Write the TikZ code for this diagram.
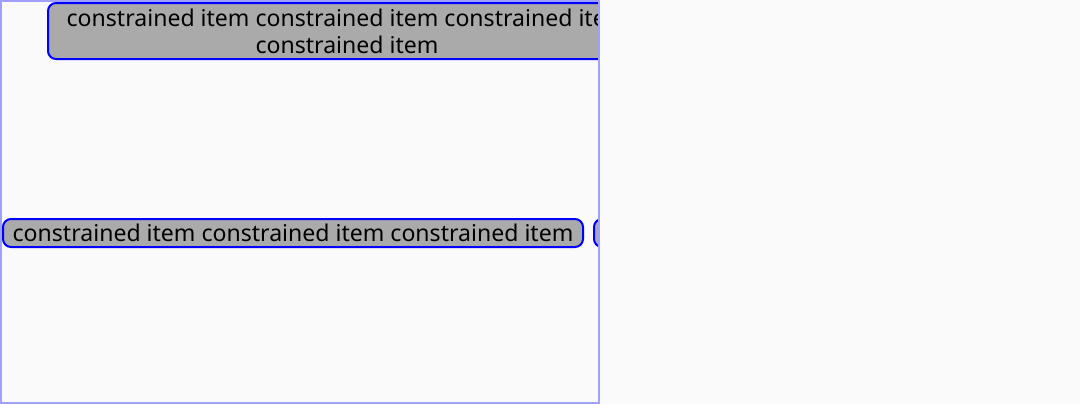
\documentclass[tikz,border=0pt]{standalone}
\usepackage{fontspec}
\setmainfont{Noto Sans}
\definecolor{bgc}{HTML}{FAFAFA}
\definecolor{framec}{HTML}{A0A0FF}
\definecolor{boxfill}{HTML}{AAAAAA}
\definecolor{boxline}{HTML}{0000FF}
\begin{document}
\begin{tikzpicture}[x=0.75pt,y=-0.75pt,
  itembox/.style={draw=boxline, fill=boxfill, line width=1.5pt, rounded corners=6pt,
    inner sep=0pt, align=center, font=\fontsize{17.3pt}{20.25pt}\selectfont, text=black}]
\fill[bgc] (0,0) rectangle (1080,404);
\useasboundingbox (0,0) rectangle (1080,404);
\begin{scope}
\clip (0,0) rectangle (599,404);
\node[itembox, minimum width=598*0.75pt, minimum height=56*0.75pt] (a) at (347,31)
  {constrained item constrained item constrained item\\constrained item};
\node[itembox, minimum width=580*0.75pt, minimum height=28*0.75pt] (b) at (293,233)
  {constrained item constrained item constrained item};
\node[itembox, minimum width=580*0.75pt, minimum height=28*0.75pt, anchor=west] (c) at (593,233) {};
\end{scope}
\draw[framec, line width=1.5pt] (1,1) rectangle (599,403);
\end{tikzpicture}
\end{document}
